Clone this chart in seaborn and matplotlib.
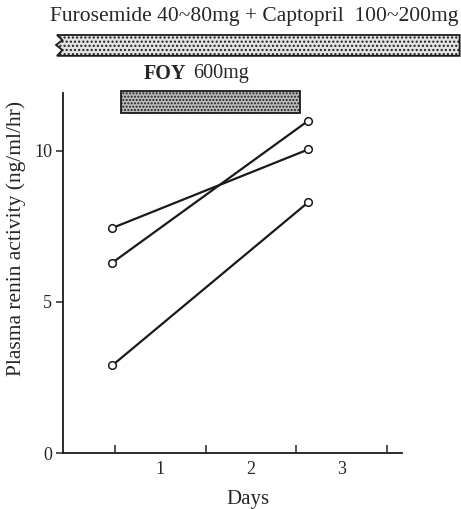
import pandas as pd
import matplotlib.pyplot as plt
import seaborn as sns
from matplotlib.patches import Polygon, Rectangle

# values
patients = ['A', 'B', 'C']
day_before = 0.47
day_after = 2.63
pra_before = [7.45, 6.3, 2.9]
pra_after = [10.05, 11.0, 8.3]

foy_start, foy_end = 0.57, 2.54
xtick_pos = [0.5, 1.5, 2.5, 3.5]
xlabel_pos = [1, 2, 3]
ytick_pos = [0, 5, 10]

df = pd.DataFrame({
    'patient': patients * 2,
    'day': [day_before] * 3 + [day_after] * 3,
    'pra': pra_before + pra_after,
})

sns.set_style('ticks')
plt.rcParams['font.family'] = ['Liberation Serif', 'DejaVu Serif']
plt.rcParams['hatch.linewidth'] = 1.0

fig = plt.figure(figsize=(4.61, 5.09), dpi=100)
ax = fig.add_axes([0.1367, 0.110, 0.7354, 0.7073])

sns.lineplot(data=df, x='day', y='pra', units='patient', estimator=None,
             color='#1a1a1a', linewidth=1.6, marker='o', markersize=5.5,
             markerfacecolor='white', markeredgecolor='#1a1a1a',
             markeredgewidth=1.1, ax=ax, legend=False)

ax.set_xlim(-0.073, 3.665)
ax.set_ylim(0, 11.92)
sns.despine(ax=ax)
for s in ('left', 'bottom'):
    ax.spines[s].set_linewidth(1.3)
    ax.spines[s].set_color('#1a1a1a')

ax.set_xticks(xtick_pos)
ax.set_xticklabels([])
ax.set_xticks(xlabel_pos, minor=True)
ax.set_xticklabels([str(v) for v in xlabel_pos], minor=True)
ax.tick_params(axis='x', which='major', direction='in', length=6, width=1.1)
ax.tick_params(axis='x', which='minor', length=0, pad=6, labelsize=13)
ax.set_yticks(ytick_pos)
ax.tick_params(axis='y', direction='out', length=5, width=1.1, labelsize=13, pad=3)

ax.set_xlabel('Days', fontsize=15)
ax.set_ylabel('Plasma renin activity (ng/ml/hr)', fontsize=15.5)
ax.xaxis.set_label_coords(0.546, -0.103)
ax.yaxis.set_label_coords(-0.108, 0.597)

# FOY bar
ax.add_patch(Rectangle((foy_start, 11.26), foy_end - foy_start, 0.72,
                       facecolor='#bdbdbd', edgecolor='#1a1a1a', hatch='.....',
                       linewidth=1.3, clip_on=False))
ax.text(1.29, 12.55, 'FOY', fontsize=14.5, fontweight='bold', ha='right',
        va='center', transform=ax.transData)
ax.text(1.36, 12.55, '600mg', fontsize=14.5, ha='left', va='center',
        transform=ax.transData)

# Furosemide + Captopril bar with torn left edge
x0, x1 = -0.14, 4.3
y0, y1 = 13.15, 13.84
zig = [(x0, y1), (x0 + 0.06, y1 - 0.17), (x0 - 0.01, y1 - 0.33),
       (x0 + 0.06, y1 - 0.5), (x0, y0)]
poly = Polygon([(x1, y0)] + zig[::-1][:1] + [(x0, y0)] + zig[::-1][1:] + [(x1, y1)],
               closed=True, facecolor='#e2e2e2', edgecolor='#1a1a1a',
               hatch='....', linewidth=1.3, clip_on=False)
ax.add_patch(poly)
fig.text(0.552, 0.968, 'Furosemide 40~80mg + Captopril  100~200mg',
         fontsize=15.5, ha='center', va='center')

fig.savefig('out.png', dpi=100)
